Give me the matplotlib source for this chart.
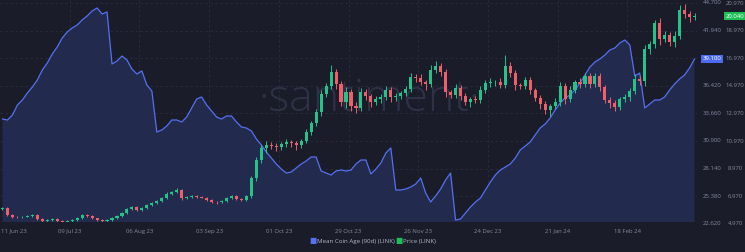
import numpy as np
import pandas as pd
import matplotlib
matplotlib.use("Agg")
from matplotlib import pyplot as plt
from matplotlib.transforms import blended_transform_factory

# LINK: mean coin age (90d) and price, one candle every 2 days
start_date = "2023-06-12"

mean_coin_age = [
    33.1, 33.0, 33.5, 34.5, 35.0, 35.7, 36.3, 37.0, 38.0, 38.7,
    39.6, 40.3, 41.2, 41.8, 42.2, 42.5, 43.0, 43.4, 43.9, 44.2,
    43.6, 43.8, 38.6, 38.9, 39.4, 39.0, 38.1, 37.6, 37.9, 36.5,
    35.9, 31.8, 32.0, 32.4, 33.0, 33.0, 32.8, 33.3, 34.2, 35.1,
    35.3, 34.5, 33.9, 33.3, 33.1, 33.4, 33.4, 32.8, 32.3, 32.2,
    31.9, 31.1, 30.5, 29.8, 29.2, 28.6, 28.1, 27.7, 27.8, 28.2,
    28.6, 28.9, 29.3, 29.3, 27.9, 27.7, 27.5, 27.9, 28.0, 27.9,
    28.0, 28.6, 29.0, 29.0, 27.6, 28.1, 28.7, 29.7, 30.2, 26.0,
    26.0, 26.1, 26.3, 26.6, 27.2, 25.7, 24.8, 25.4, 26.1, 27.0,
    27.7, 23.0, 23.1, 23.7, 24.3, 24.8, 25.2, 26.0, 26.8, 27.5,
    28.0, 28.3, 28.6, 29.2, 30.0, 30.4, 30.8, 31.5, 32.2, 32.6,
    33.2, 34.0, 34.7, 35.2, 35.5, 36.0, 36.7, 37.5, 38.3, 38.8,
    39.1, 39.5, 40.0, 40.2, 40.7, 41.0, 40.5, 37.4, 37.7, 34.2,
    34.6, 35.0, 35.0, 35.3, 36.0, 36.6, 37.1, 37.5, 38.2, 39.1,
]

first_open = 6.05
close = [
    6.12, 5.61, 5.47, 5.44, 5.50, 5.54, 5.61, 5.32, 5.18, 5.25,
    5.32, 5.18, 5.11, 5.18, 5.25, 5.39, 5.61, 5.54, 5.39, 5.25,
    5.18, 5.25, 5.39, 5.54, 5.76, 6.05, 6.19, 5.98, 6.12, 6.34,
    6.48, 6.63, 6.85, 7.14, 7.28, 7.43, 6.85, 6.92, 6.99, 6.92,
    6.88, 6.70, 6.56, 6.52, 6.63, 6.85, 6.99, 6.77, 6.70, 6.99,
    8.30, 9.60, 10.47, 10.69, 10.62, 10.54, 10.76, 10.91, 10.83, 10.69,
    10.98, 11.63, 12.28, 13.08, 14.39, 14.97, 15.98, 15.11, 13.81, 14.53,
    13.52, 13.37, 14.53, 14.24, 13.81, 14.02, 14.17, 14.68, 14.17, 14.24,
    14.46, 14.75, 15.62, 15.55, 15.26, 15.11, 16.13, 16.41, 15.98, 14.53,
    14.31, 14.82, 14.24, 13.81, 14.02, 13.95, 14.68, 15.18, 15.24, 15.26,
    15.04, 16.41, 15.91, 15.04, 14.97, 15.40, 14.68, 14.10, 13.66, 13.22,
    13.52, 13.81, 14.97, 14.02, 14.68, 15.26, 15.11, 15.69, 15.11, 15.69,
    14.89, 13.95, 13.73, 13.44, 14.02, 14.17, 14.60, 15.47, 15.33, 17.65,
    18.01, 19.53, 18.37, 18.66, 18.16, 18.59, 20.48, 20.19, 19.97, 20.04,
]

# wick length above / below the candle body
wick_hi = [
    .08, .05, .04, .06, .05, .08, .06, .04, .05, .06,
    .05, .04, .05, .06, .05, .07, .10, .06, .05, .04,
    .05, .06, .05, .07, .08, .10, .08, .06, .09, .08,
    .07, .10, .09, .12, .08, .15, .10, .08, .09, .06,
    .07, .05, .06, .05, .08, .07, .09, .06, .05, .10,
    .15, .20, .25, .30, .18, .22, .15, .20, .12, .18,
    .15, .20, .18, .25, .30, .22, .50, .25, .20, .35,
    .20, .25, .30, .20, .15, .25, .20, .30, .18, .20,
    .15, .25, .30, .20, .25, .15, .35, .40, .25, .20,
    .15, .30, .20, .25, .15, .20, .25, .20, .30, .15,
    .25, .80, .30, .20, .15, .25, .20, .15, .20, .25,
    .15, .25, .30, .20, .25, .15, .30, .20, .25, .20,
    .20, .15, .25, .20, .15, .20, .25, .35, .20, .30,
    .25, .20, .40, .30, .25, .35, .35, .40, .20, .25,
]
wick_lo = [
    .05, .06, .05, .04, .06, .05, .07, .05, .06, .04,
    .05, .06, .04, .05, .06, .05, .04, .06, .05, .07,
    .05, .04, .06, .05, .04, .06, .08, .07, .05, .06,
    .08, .06, .07, .09, .10, .08, .12, .07, .08, .10,
    .06, .08, .07, .09, .06, .05, .07, .08, .10, .09,
    .15, .20, .25, .35, .20, .30, .25, .20, .30, .40,
    .20, .15, .25, .20, .30, .25, .20, .35, .30, .45,
    .40, .35, .25, .30, .40, .20, .30, .25, .35, .30,
    .20, .25, .20, .30, .25, .40, .20, .25, .30, .35,
    .25, .20, .30, .25, .35, .20, .25, .20, .30, .25,
    .20, .25, .30, .35, .25, .20, .30, .25, .35, .30,
    .40, .25, .30, .35, .20, .25, .30, .25, .30, .20,
    .30, .25, .35, .30, .25, .20, .30, .25, .30, .40,
    .35, .30, .40, .25, .30, .35, .25, .30, .35, .20,
]

age_ticks = [22.62, 25.38, 28.14, 30.90, 33.66, 36.42, 39.18, 41.94, 44.70]
price_ticks = [4.97, 6.97, 8.97, 10.97, 12.97, 14.97, 16.97, 18.97, 20.97]
date_ticks = ["2023-06-11", "2023-07-09", "2023-08-06", "2023-09-03",
              "2023-10-01", "2023-10-29", "2023-11-26", "2023-12-24",
              "2024-01-21", "2024-02-18"]

bg = "#1b1c2a"
grid_col = "#2a2d40"
txt_col = "#858a9e"
line_col = "#5670f0"
fill_col = "#222a4d"
up_col = "#23c38a"
down_col = "#ef5f6b"

n = len(close)
x = np.arange(n)
dates = pd.date_range(start_date, periods=n, freq="2D")
close = np.array(close)
opens = np.concatenate([[first_open], close[:-1]])
highs = np.maximum(opens, close) + np.array(wick_hi)
lows = np.minimum(opens, close) - np.array(wick_lo)

plt.rcParams['font.family'] = ['Open Sans', 'DejaVu Sans']

fig = plt.figure(figsize=(7.45, 2.52), dpi=100, facecolor=bg)
ax = fig.add_axes([0, 30 / 252, 697 / 745, 222 / 252])
ax.set_facecolor(bg)
ax2 = ax.twinx()

# coin age area
ax.fill_between(x, mean_coin_age, 0, color=fill_col, zorder=2, lw=0)
ax.plot(x, mean_coin_age, color=line_col, lw=0.9, zorder=3)
ax.set_ylim(22.8, 45.0)
ax.set_xlim(-0.5, n - 0.5)

# grid
tick_pos = [(pd.Timestamp(d) - dates[0]).days / 2 for d in date_ticks]
for t in tick_pos[1:]:
    ax.axvline(t, color=grid_col, lw=0.6, ls=(0, (3, 3)), zorder=1)
for t in age_ticks:
    ax.axhline(t, color=grid_col, lw=0.6, ls=(0, (3, 3)), zorder=1)

ax.text(0.53, 0.55, "\u00b7santiment\u00b7", transform=ax.transAxes,
        fontsize=32, fontweight="light", color="#2f3247",
        ha="center", va="center", zorder=1.5)

# candles
colors = [up_col if c >= o else down_col for o, c in zip(opens, close)]
ax2.vlines(x, lows, highs, colors=colors, lw=0.7, zorder=4)
body = np.maximum(np.abs(close - opens), 0.04)
ax2.bar(x, body, bottom=np.minimum(opens, close), width=0.62,
        color=colors, lw=0, zorder=5)
ax2.set_ylim(5.105, 21.2)

for a in (ax, ax2):
    a.set_xticks([])
    a.set_yticks([])
    for s in a.spines.values():
        s.set_visible(False)

# right side value columns
tr_age = blended_transform_factory(ax.transAxes, ax.transData)
tr_price = blended_transform_factory(ax2.transAxes, ax2.transData)
for v in age_ticks:
    ax.text(1.0215, v, "%.3f" % v, transform=tr_age, fontsize=4.3,
            color=txt_col, ha="center", va="center", clip_on=False)
for v in price_ticks:
    ax2.text(1.0545, v, "%.3f" % v, transform=tr_price, fontsize=4.3,
             color=txt_col, ha="center", va="center", clip_on=False)

ax.text(1.0215, mean_coin_age[-1], "%.3f" % mean_coin_age[-1], transform=tr_age,
        fontsize=4.3, color="white", ha="center", va="center", clip_on=False,
        bbox=dict(boxstyle="square,pad=0.25", fc="#4d6af2", ec="none"), zorder=6)
ax2.text(1.0545, close[-1], "%.3f" % close[-1], transform=tr_price,
         fontsize=4.3, color="white", ha="center", va="center", clip_on=False,
         bbox=dict(boxstyle="square,pad=0.25", fc="#1fbf57", ec="none"), zorder=6)

# date labels under the plot
tr_date = blended_transform_factory(ax.transData, ax.transAxes)
for i, (t, d) in enumerate(zip(tick_pos, date_ticks)):
    lab = pd.Timestamp(d).strftime("%d %b %y")
    ax.text(max(t, -0.3), -0.03, lab, transform=tr_date, fontsize=4.3,
            color=txt_col, ha="left" if i == 0 else "center", va="top")

# legend
leg_y = 0.04
fig.text(0.420, leg_y, "\u25a0", color=line_col, fontsize=5.5, ha="center", va="center")
fig.text(0.426, leg_y, "Mean Coin Age (90d) (LINK)", color="#b4b8c8", fontsize=4.4,
         ha="left", va="center")
fig.text(0.535, leg_y, "\u25a0", color="#1fbf57", fontsize=5.5, ha="center", va="center")
fig.text(0.541, leg_y, "Price (LINK)", color="#b4b8c8", fontsize=4.4,
         ha="left", va="center")

fig.savefig("out.png", dpi=100, facecolor=bg)
